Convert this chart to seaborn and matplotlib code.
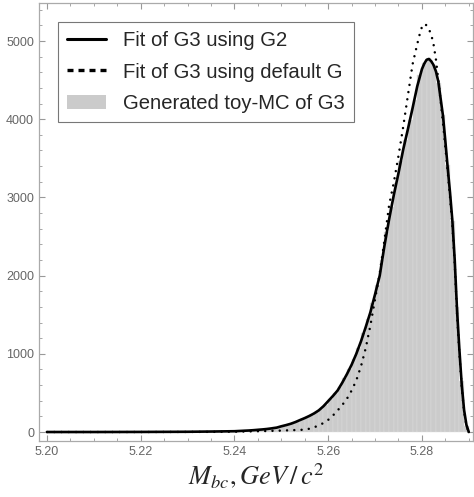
import numpy as np
import pandas as pd
import matplotlib
matplotlib.use("Agg")
import matplotlib.pyplot as plt
from matplotlib.lines import Line2D
from matplotlib.patches import Patch
from matplotlib.ticker import MultipleLocator
import seaborn as sns

# histogram of the toy-MC, bins of 0.001 from 5.200 to 5.290
bin_edges = [round(5.200 + 0.001 * i, 4) for i in range(91)]
hist_counts = [
    0, 0, 0, 0, 0, 0, 0, 0, 0, 0,
    0, 0, 0, 0, 0, 0, 0, 0, 0, 0,
    0, 0, 0, 1, 1, 1, 1, 1, 2, 2,
    2, 2, 3, 4, 5, 6, 8, 9, 11, 13,
    15, 18, 21, 25, 30, 36, 43, 51, 60, 70,
    82, 95, 112, 132, 160, 188, 218, 252, 290, 345,
    420, 500, 580, 690, 805, 930, 1080, 1260, 1450, 1650,
    1880, 2200, 2560, 2880, 3180, 3470, 3740, 3990, 4250, 4560,
    4720, 4780, 4690, 4460, 4050, 3420, 2700, 1600, 650, 80,
]

# fit of G3 using G2 (solid)
fit_g2_x = [5.200, 5.210, 5.220, 5.230, 5.235, 5.240, 5.241, 5.242, 5.243, 5.244,
            5.245, 5.246, 5.247, 5.248, 5.249, 5.250, 5.251, 5.252, 5.253, 5.254,
            5.255, 5.256, 5.257, 5.258, 5.259, 5.260, 5.261, 5.262, 5.263, 5.264,
            5.265, 5.266, 5.267, 5.268, 5.269, 5.270, 5.271, 5.272, 5.273, 5.274,
            5.275, 5.276, 5.277, 5.278, 5.279, 5.280, 5.2805, 5.281, 5.2815, 5.282,
            5.2825, 5.283, 5.2835, 5.284, 5.2845, 5.285, 5.2855, 5.286, 5.2865, 5.287,
            5.2875, 5.288, 5.2885, 5.289, 5.2895, 5.290]
fit_g2_y = [0, 0, 1, 3, 6, 10, 13, 16, 19, 23,
            28, 33, 39, 47, 56, 73, 88, 105, 127, 153,
            178, 206, 238, 277, 330, 395, 460, 530, 630, 740,
            860, 1000, 1160, 1340, 1530, 1760, 2000, 2380, 2720, 3030,
            3310, 3610, 3870, 4140, 4420, 4640, 4710, 4760, 4770, 4740,
            4690, 4610, 4480, 4260, 4040, 3720, 3380, 3060, 2700, 2200,
            1550, 1050, 600, 280, 90, 0]

# fit of G3 using default G (dotted)
fit_def_x = [5.200, 5.220, 5.230, 5.235, 5.240, 5.245, 5.250, 5.252, 5.254, 5.255,
             5.256, 5.257, 5.258, 5.259, 5.260, 5.261, 5.262, 5.263, 5.264, 5.265,
             5.266, 5.267, 5.268, 5.269, 5.270, 5.271, 5.272, 5.273, 5.274, 5.275,
             5.276, 5.277, 5.278, 5.279, 5.2795, 5.280, 5.2805, 5.281, 5.2815, 5.282,
             5.2825, 5.283, 5.2835, 5.284, 5.2845, 5.285, 5.2855, 5.286, 5.2865, 5.287,
             5.2875, 5.288, 5.2885, 5.289, 5.2895, 5.290]
fit_def_y = [0, 0, 1, 2, 4, 10, 18, 23, 27, 30,
             42, 60, 85, 115, 155, 210, 275, 345, 425, 530,
             660, 840, 1070, 1360, 1700, 2030, 2450, 2900, 3190, 3530,
             3900, 4300, 4700, 4960, 5080, 5180, 5220, 5200, 5150, 5080,
             4950, 4760, 4500, 4230, 3950, 3640, 3330, 3000, 2650, 2150,
             1500, 1000, 570, 260, 80, 0]

labels = ["Fit of G3 using G2", "Fit of G3 using default G", "Generated toy-MC of G3"]

sns.set_style("ticks")
plt.rcParams['font.family'] = ['Liberation Sans', 'DejaVu Sans']
plt.rcParams['mathtext.fontset'] = 'stix'

fig = plt.figure(figsize=(4.74, 4.97), dpi=100)
ax = fig.add_axes([39 / 474, 1 - 441 / 497, 434 / 474, 438 / 497])

hist_df = pd.DataFrame({
    "mbc": [(a + b) / 2 for a, b in zip(bin_edges[:-1], bin_edges[1:])],
    "n": hist_counts,
})
sns.histplot(data=hist_df, x="mbc", weights="n", bins=bin_edges, ax=ax,
             color="#cbcbcb", edgecolor="#dedede", linewidth=0.3, alpha=1)
sns.lineplot(x=fit_def_x, y=fit_def_y, ax=ax, color="black", lw=1.8,
             linestyle=(0, (0.01, 2.9)), dash_capstyle="round")
sns.lineplot(x=fit_g2_x, y=fit_g2_y, ax=ax, color="black", lw=1.9)

ax.set_xlim(5.1983, 5.2909)
ax.set_ylim(-115, 5486)
ax.xaxis.set_major_locator(MultipleLocator(0.02))
ax.xaxis.set_minor_locator(MultipleLocator(0.005))
ax.yaxis.set_major_locator(MultipleLocator(1000))
ax.yaxis.set_minor_locator(MultipleLocator(200))
ax.xaxis.set_major_formatter(plt.FuncFormatter(lambda v, p: f"{v:.2f}"))

ax.tick_params(which="both", direction="in", top=True, right=True,
               color="#999999", labelcolor="#666666", labelsize=9)
ax.tick_params(which="major", length=4, width=0.8)
ax.tick_params(which="minor", length=2.5, width=0.6)
for s in ax.spines.values():
    s.set_color("#aaaaaa")
    s.set_linewidth(0.9)

ax.set_ylabel("")
ax.set_xlabel(r"$M_{bc}, GeV\,/\,c^2$", fontsize=19, labelpad=2)

handles = [
    Line2D([], [], color="black", lw=2.2),
    Line2D([], [], color="black", lw=2.4, linestyle=(0, (1.8, 1.5)),
           dash_capstyle="butt"),
    Patch(facecolor="#cbcbcb", edgecolor="none"),
]
leg = ax.legend(handles, labels, loc="upper left", bbox_to_anchor=(0.044, 0.957),
                borderaxespad=0, fontsize=14.6, frameon=True, fancybox=False,
                handlelength=1.9, handletextpad=0.85, labelspacing=0.62,
                borderpad=0.45)
leg.get_frame().set_edgecolor("#555555")
leg.get_frame().set_linewidth(0.8)

fig.savefig("out.png", dpi=100)
